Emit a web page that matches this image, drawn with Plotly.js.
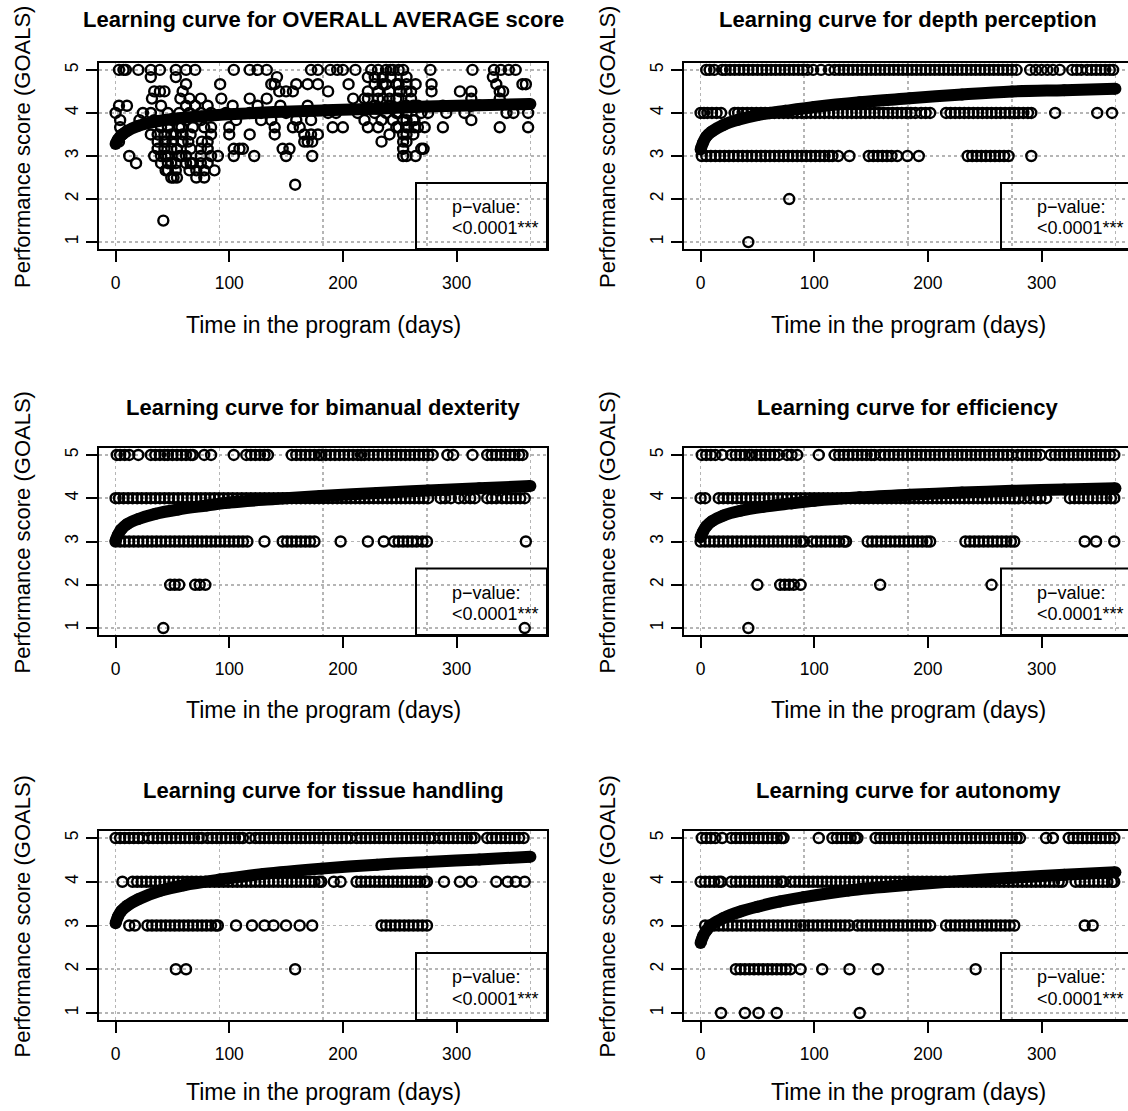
<!DOCTYPE html>
<html><head><meta charset="utf-8">
<script src="https://cdn.plot.ly/plotly-3.0.1.min.js"></script>
<style>html,body{margin:0;padding:0;overflow:hidden;background:#fff}#chart{width:1150px;height:1111px}</style>
</head><body><div id="chart"></div><script>
// ---------- Panel titles & axis labels ----------
const panelTitles = [
  'Learning curve for OVERALL AVERAGE score',
  'Learning curve for depth perception',
  'Learning curve for bimanual dexterity',
  'Learning curve for efficiency',
  'Learning curve for tissue handling',
  'Learning curve for autonomy'
];
const xTitle = 'Time in the program (days)';
const yTitle = 'Performance score (GOALS)';
const xTickVals = [0, 100, 200, 300];
const yTickVals = [1, 2, 3, 4, 5];
const gridDays = [0, 91.25, 182.5, 273.75, 365];
const pLine1 = 'p\u2212value:';
const pLine2 = '<0.0001***';

// ---------- Panel 1: overall average (day, score) ----------
const avgDays = [
 3,7,9,20,31,39,53,62,70,104,118,125,133,172,178,189,195,200,211,225,231,238,244,249,253,277,314,333,339,346,352,242,
 31,53,142,222,228,332,235,242,256,
 62,92,137,140,159,169,178,205,228,238,247,256,264,278,335,358,361,235,249,
 34,39,43,59,144,150,156,187,222,231,241,250,260,278,303,313,338,341,256,
 32,57,65,75,93,118,133,209,219,222,231,241,247,260,313,338,235,249,
 3,10,40,62,70,81,103,125,145,169,228,241,266,288,313,256,262,
 0,24,31,46,56,65,75,84,97,118,128,150,187,194,213,228,238,247,256,269,275,291,307,344,350,363,249,
 4,21,34,50,62,75,106,128,137,159,172,219,234,244,253,263,313,256,262,
 4,40,46,56,68,78,84,100,140,156,162,191,200,222,231,247,256,263,266,272,288,338,363,249,58,
 6,31,37,43,53,59,84,100,118,140,166,172,178,241,253,256,262,49,66,
 3,37,43,50,59,64,76,81,166,169,173,234,253,256,44,58,
 37,43,54,75,81,104,109,112,147,153,253,269,271,49,66,
 12,34,40,46,56,62,75,84,90,104,122,150,173,253,264,256,44,58,
 18,40,46,53,62,68,75,81,49,66,
 46,53,65,71,78,87,44,
 51,54,71,78,49,
 158,
 42
];
const avgScores = [
 5,5,5,5,5,5,5,5,5,5,5,5,5,5,5,5,5,5,5,5,5,5,5,5,5,5,5,5,5,5,5,5,
 4.833,4.833,4.833,4.833,4.833,4.833,4.833,4.833,4.833,
 4.667,4.667,4.667,4.667,4.667,4.667,4.667,4.667,4.667,4.667,4.667,4.667,4.667,4.667,4.667,4.667,4.667,4.667,4.667,
 4.5,4.5,4.5,4.5,4.5,4.5,4.5,4.5,4.5,4.5,4.5,4.5,4.5,4.5,4.5,4.5,4.5,4.5,4.5,
 4.333,4.333,4.333,4.333,4.333,4.333,4.333,4.333,4.333,4.333,4.333,4.333,4.333,4.333,4.333,4.333,4.333,4.333,
 4.167,4.167,4.167,4.167,4.167,4.167,4.167,4.167,4.167,4.167,4.167,4.167,4.167,4.167,4.167,4.167,4.167,
 4,4,4,4,4,4,4,4,4,4,4,4,4,4,4,4,4,4,4,4,4,4,4,4,4,4,4,
 3.833,3.833,3.833,3.833,3.833,3.833,3.833,3.833,3.833,3.833,3.833,3.833,3.833,3.833,3.833,3.833,3.833,3.833,3.833,
 3.667,3.667,3.667,3.667,3.667,3.667,3.667,3.667,3.667,3.667,3.667,3.667,3.667,3.667,3.667,3.667,3.667,3.667,3.667,3.667,3.667,3.667,3.667,3.667,3.667,
 3.5,3.5,3.5,3.5,3.5,3.5,3.5,3.5,3.5,3.5,3.5,3.5,3.5,3.5,3.5,3.5,3.5,3.5,3.5,
 3.333,3.333,3.333,3.333,3.333,3.333,3.333,3.333,3.333,3.333,3.333,3.333,3.333,3.333,3.333,3.333,
 3.167,3.167,3.167,3.167,3.167,3.167,3.167,3.167,3.167,3.167,3.167,3.167,3.167,3.167,3.167,
 3,3,3,3,3,3,3,3,3,3,3,3,3,3,3,3,3,3,
 2.833,2.833,2.833,2.833,2.833,2.833,2.833,2.833,2.833,2.833,
 2.667,2.667,2.667,2.667,2.667,2.667,2.667,
 2.5,2.5,2.5,2.5,2.5,
 2.333,
 1.5
];
const avgFitDays   = [0,2,5,10,20,35,50,75,100,140,184,230,274,320,365];
const avgFitScores = [3.28,3.38,3.48,3.58,3.7,3.8,3.86,3.92,3.97,4.02,4.06,4.1,4.15,4.18,4.21];

// ---------- Panel 2: depth perception (days at each score) ----------
const depth5 = [5,8,12,19,22,26,30,34,38,42,46,50,54,58,62,66,70,74,78,82,86,90,94,99,106,113,118,122,126,130,134,138,142,146,150,154,158,162,166,170,174,178,182,186,190,194,198,202,206,210,214,218,222,226,230,234,238,242,246,250,254,258,262,266,270,274,278,290,295,300,305,310,316,327,331,335,340,344,348,352,356,360,363];
const depth4 = [0,3,6,10,14,18,30,33,37,41,45,49,53,57,61,65,69,73,77,81,85,89,93,97,101,105,109,113,117,121,125,129,133,137,141,145,149,153,157,161,165,169,173,177,181,185,189,194,198,202,216,220,224,228,232,236,240,244,248,252,256,260,264,268,272,276,280,284,288,291,312,349,362];
const depth3 = [1,5,9,13,17,21,25,29,33,37,41,45,49,53,57,61,65,69,73,77,81,85,89,93,97,101,105,109,113,116,121,131,148,152,156,160,164,168,173,182,192,235,239,243,247,251,255,259,263,267,271,291];
const depth2 = [78];
const depth1 = [42];
const depthFitDays   = [0,2,5,10,20,33,50,75,100,140,184,230,274,320,365];
const depthFitScores = [3.15,3.3,3.45,3.57,3.72,3.84,3.95,4.05,4.14,4.25,4.34,4.43,4.5,4.53,4.56];

// ---------- Panel 3: bimanual dexterity ----------
const biman5 = [1,4,8,12,20,31,35,39,43,46,50,54,58,62,66,68,78,84,104,115,119,123,127,131,134,155,159,163,167,171,175,179,181,185,189,193,197,201,205,209,213,216,219,223,227,231,235,239,243,247,251,255,259,263,267,271,275,279,292,297,314,327,331,335,339,343,347,351,355,358];
const biman4 = [0,3,7,11,15,19,23,27,31,35,39,43,47,51,55,59,63,67,71,75,79,83,87,91,95,99,103,107,111,115,119,123,127,131,135,139,143,147,151,155,159,163,167,171,175,179,183,187,191,195,199,203,207,211,215,219,223,227,231,235,239,243,247,251,255,259,263,267,271,275,286,290,295,302,307,312,316,327,331,335,340,344,348,352,356,360];
const biman3 = [0,4,8,12,16,20,24,28,32,36,40,44,48,52,56,60,64,68,72,76,80,84,88,92,96,100,104,108,112,116,131,147,151,155,159,163,167,171,175,198,222,236,245,249,253,257,261,265,270,274,361];
const biman2 = [48,52,56,70,74,79];
const biman1 = [42,360];
const bimanFitDays   = [0,2,5,10,20,35,55,80,100,140,180,230,275,320,365];
const bimanFitScores = [3.02,3.15,3.28,3.4,3.52,3.64,3.74,3.83,3.9,3.98,4.05,4.12,4.18,4.23,4.28];

// ---------- Panel 4: efficiency ----------
const effic5 = [1,5,9,13,19,27,31,35,39,43,45,49,53,57,61,65,69,76,80,85,104,118,122,126,130,134,138,142,146,150,153,158,162,166,170,174,178,182,186,190,194,198,202,206,210,214,218,222,226,230,234,238,242,246,250,254,258,262,266,270,274,279,283,287,291,295,299,308,312,316,320,324,328,332,336,340,344,348,352,356,360,364];
const effic4 = [0,4,16,20,24,28,32,36,40,44,48,52,56,60,64,68,72,76,80,84,88,92,96,100,104,108,112,116,120,124,128,132,136,140,144,148,152,156,160,164,168,172,176,180,184,188,192,196,200,204,208,212,216,220,224,228,232,236,240,244,248,252,256,260,264,268,272,276,280,285,290,295,299,304,325,329,333,337,341,345,349,353,357,361,364];
const effic3 = [0,4,8,12,16,20,24,28,32,36,40,44,48,52,56,60,64,68,72,76,80,84,88,91,98,102,106,110,114,118,122,126,128,147,151,155,159,163,167,171,175,179,183,187,191,195,199,202,233,237,241,245,249,253,257,261,265,269,273,276,338,348,364];
const effic2 = [50,70,74,78,82,88,158,256];
const effic1 = [42];
const efficFitDays   = [0,2,5,10,20,35,55,80,100,140,184,230,274,320,365];
const efficFitScores = [3.1,3.22,3.35,3.47,3.6,3.71,3.8,3.88,3.94,4.02,4.08,4.13,4.17,4.2,4.23];

// ---------- Panel 5: tissue handling ----------
const tissue5 = [0,4,8,12,16,20,24,29,33,37,41,45,49,53,57,61,65,69,73,76,81,85,89,93,97,101,105,109,112,118,123,127,131,135,139,143,147,151,155,159,163,167,171,175,179,183,187,191,195,199,203,207,212,216,220,224,228,232,236,240,244,248,252,256,260,264,268,272,276,280,285,289,293,297,301,305,309,313,316,327,331,335,339,343,347,351,355,359];
const tissue4 = [6,15,19,23,27,31,35,39,43,47,51,55,59,63,67,71,75,79,83,87,91,95,99,103,107,111,115,119,123,127,131,135,139,143,147,151,155,159,163,167,171,175,179,181,192,198,212,216,220,224,228,232,236,240,244,248,252,256,260,264,268,272,274,289,303,313,335,345,352,360];
const tissue3 = [12,17,28,32,36,40,44,48,52,56,60,64,68,72,76,80,84,88,90,106,120,131,139,150,162,173,234,238,242,246,250,254,258,262,266,270,274];
const tissue2 = [53,62,158];
const tissue1 = [];
const tissueFitDays   = [0,2,5,10,20,40,60,92,130,181,230,274,320,365];
const tissueFitScores = [3.05,3.2,3.33,3.45,3.6,3.8,3.92,4.05,4.18,4.3,4.39,4.45,4.51,4.57];

// ---------- Panel 6: autonomy ----------
const auton5 = [1,5,9,13,19,27,31,35,39,43,47,51,55,59,63,67,71,73,104,116,120,124,128,132,136,138,154,158,162,166,170,174,178,182,186,190,194,198,202,206,210,214,218,222,226,230,234,238,242,246,250,254,258,262,266,270,274,278,281,304,310,324,328,332,336,340,344,348,352,356,360,364];
const auton4 = [0,4,8,12,16,18,27,31,35,39,43,47,51,55,59,63,67,71,73,79,83,87,91,95,99,103,107,111,115,119,123,127,131,135,139,143,147,151,155,159,163,167,171,175,179,183,187,191,195,199,203,207,211,215,219,223,227,231,235,239,243,247,251,255,259,263,267,271,275,279,283,287,291,295,299,303,307,311,315,318,330,334,338,342,346,350,354,358,362,364];
const auton3 = [4,8,12,16,20,24,28,32,36,40,44,48,52,56,60,64,68,72,76,80,84,88,91,95,99,103,107,111,115,119,123,127,131,138,142,146,150,154,158,162,166,170,174,178,182,186,190,194,198,202,216,220,224,228,232,236,240,244,248,252,256,260,264,268,272,276,338,345];
const auton2 = [31,35,39,43,47,51,55,59,63,67,71,75,79,88,107,131,156,242];
const auton1 = [18,39,51,67,140];
const autonFitDays   = [0,2,5,10,20,35,50,70,91,130,184,230,274,320,365];
const autonFitScores = [2.6,2.75,2.88,3.02,3.17,3.32,3.43,3.55,3.65,3.8,3.93,4.02,4.09,4.16,4.22];

// ---------- build ----------
function levelsToPoints(l5,l4,l3,l2,l1){
  const xs=[], ys=[];
  [[l5,5],[l4,4],[l3,3],[l2,2],[l1,1]].forEach(([arr,lv])=>arr.forEach(d=>{xs.push(d);ys.push(lv);}));
  return [xs,ys];
}
const panels = [
  {pts:[avgDays,avgScores], fit:[avgFitDays,avgFitScores]},
  {pts:levelsToPoints(depth5,depth4,depth3,depth2,depth1), fit:[depthFitDays,depthFitScores]},
  {pts:levelsToPoints(biman5,biman4,biman3,biman2,biman1), fit:[bimanFitDays,bimanFitScores]},
  {pts:levelsToPoints(effic5,effic4,effic3,effic2,effic1), fit:[efficFitDays,efficFitScores]},
  {pts:levelsToPoints(tissue5,tissue4,tissue3,tissue2,tissue1), fit:[tissueFitDays,tissueFitScores]},
  {pts:levelsToPoints(auton5,auton4,auton3,auton2,auton1), fit:[autonFitDays,autonFitScores]}
];

const FONT = '"Liberation Sans", Arial, Helvetica, sans-serif';
const W = 1150, H = 1111;
const colPx = [[99,547],[684,1132]];
const rowPx = [[63,249],[448,635],[831,1020]];
const titleY = [20,407,790];
const xTitleY = [325,710,1092];
const yTitleX = [22,607];
const yTitleShift = -9;

const traces = [];
const layout = {
  width: W, height: H, margin:{l:0,r:0,t:0,b:0},
  paper_bgcolor:'#fff', plot_bgcolor:'#fff', showlegend:false,
  font:{family:FONT, color:'#000'},
  annotations:[], shapes:[]
};

panels.forEach((p,i)=>{
  const col = i%2, row = Math.floor(i/2);
  const k = i===0 ? '' : String(i+1);
  const xa = 'x'+k, ya = 'y'+k;
  traces.push({type:'scatter', mode:'markers', x:p.pts[0], y:p.pts[1], xaxis:xa, yaxis:ya,
    marker:{symbol:'circle-open', size:10, color:'#000', line:{width:2.4, color:'#000'}}, hoverinfo:'x+y'});
  traces.push({type:'scatter', mode:'lines+markers', x:p.fit[0], y:p.fit[1], xaxis:xa, yaxis:ya,
    line:{color:'#000', width:12, shape:'spline'}, marker:{symbol:'circle', size:12, color:'#000'}, hoverinfo:'x+y'});
  const cx = colPx[col], ry = rowPx[row];
  layout['xaxis'+k] = {
    domain:[cx[0]/W, cx[1]/W], range:[-14.6, 379.6], anchor:ya,
    tickmode:'array', tickvals:xTickVals, ticks:'outside', ticklen:11, tickwidth:2, tickcolor:'#000',
    showline:true, linewidth:2, linecolor:'#000', mirror:true, zeroline:false, showgrid:false,
    tickfont:{family:FONT, size:17.5, color:'#000'}, ticklabelstandoff:6,
    minor:{tickmode:'array', tickvals:gridDays, showgrid:true, gridcolor:'#b5b5b5', griddash:'dot', gridwidth:1.6, ticks:''},
    fixedrange:true
  };
  layout['yaxis'+k] = {
    domain:[1-ry[1]/H, 1-ry[0]/H], range:[0.84, 5.16], anchor:xa,
    tickmode:'array', tickvals:yTickVals, ticks:'outside', ticklen:11, tickwidth:2, tickcolor:'#000',
    showline:true, linewidth:2, linecolor:'#000', mirror:true, zeroline:false,
    showgrid:true, gridcolor:'#b5b5b5', griddash:'dot', gridwidth:1.6,
    tickangle:-90, tickfont:{family:FONT, size:17.5, color:'#000'}, ticklabelstandoff:1,
    fixedrange:true
  };
  const midX = (cx[0]+cx[1])/2/W;
  layout.annotations.push({text:panelTitles[i], xref:'paper', yref:'paper', x:midX, y:1-titleY[row]/H,
    xanchor:'center', yanchor:'middle', showarrow:false, font:{family:FONT, size:22, weight:'bold', color:'#000'}});
  layout.annotations.push({text:xTitle, xref:'paper', yref:'paper', x:midX, y:1-xTitleY[row]/H,
    xanchor:'center', yanchor:'middle', showarrow:false, font:{family:FONT, size:23, color:'#000'}});
  layout.annotations.push({text:yTitle, xref:'paper', yref:'paper', x:yTitleX[col]/W, y:1-((ry[0]+ry[1])/2+yTitleShift)/H,
    xanchor:'center', yanchor:'middle', textangle:-90, showarrow:false, font:{family:FONT, size:22, color:'#000'}});
  // p-value legend box
  layout.shapes.push({type:'rect', xref:xa+' domain', yref:ya+' domain', x0:0.7076, x1:1, y0:0, y1:0.355,
    line:{color:'#000', width:2}, fillcolor:'rgba(0,0,0,0)', layer:'above'});
  layout.annotations.push({text:pLine1, xref:xa+' domain', yref:ya+' domain', x:0.783, y:0.226,
    xanchor:'left', yanchor:'middle', showarrow:false, font:{family:FONT, size:18, color:'#000'}});
  layout.annotations.push({text:pLine2, xref:xa+' domain', yref:ya+' domain', x:0.783, y:0.113,
    xanchor:'left', yanchor:'middle', showarrow:false, font:{family:FONT, size:18, color:'#000'}});
});

Plotly.newPlot('chart', traces, layout, {displayModeBar:false, staticPlot:true});
</script></body></html>
